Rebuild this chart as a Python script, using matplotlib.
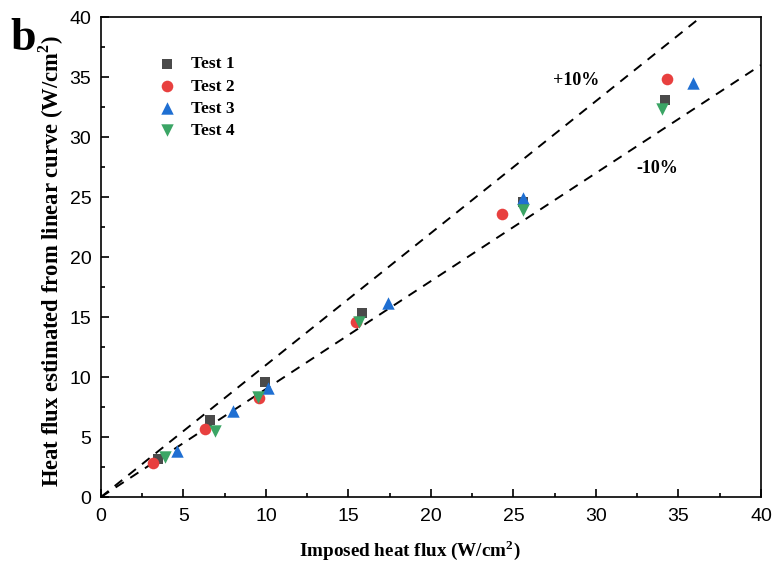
import matplotlib
matplotlib.use('Agg')
import matplotlib.pyplot as plt
from matplotlib.ticker import MultipleLocator

# imposed heat flux (x) vs estimated heat flux (y), W/cm2
x_t1 = [3.45, 6.6, 9.95, 15.8, 25.55, 34.2]
y_t1 = [3.2, 6.4, 9.6, 15.3, 24.6, 33.1]
x_t2 = [3.15, 6.3, 9.6, 15.45, 24.3, 34.3]
y_t2 = [2.85, 5.65, 8.25, 14.55, 23.6, 34.85]
x_t3 = [4.6, 8.0, 10.1, 17.4, 25.6, 35.9]
y_t3 = [3.8, 7.15, 9.1, 16.2, 24.9, 34.5]
x_t4 = [3.9, 6.9, 9.5, 15.65, 25.55, 34.0]
y_t4 = [3.35, 5.5, 8.35, 14.6, 23.9, 32.35]

bound_x = [0, 40]
upper = [0, 44]   # +10%
lower = [0, 36]   # -10%

serif = ['Liberation Serif', 'DejaVu Serif']
sans = ['Liberation Sans', 'DejaVu Sans']

plt.rcParams['mathtext.fontset'] = 'custom'
plt.rcParams['mathtext.rm'] = 'Liberation Serif'
plt.rcParams['mathtext.bf'] = 'Liberation Serif:bold'

fig = plt.figure(figsize=(7.72, 5.68), dpi=100)
ax = fig.add_axes([0.1308, 0.125, 0.8549, 0.845])

ax.plot(bound_x, upper, color='black', lw=1.4, dashes=[5, 4], zorder=1)
ax.plot(bound_x, lower, color='black', lw=1.4, dashes=[5, 4], zorder=1)

ax.scatter(x_t1, y_t1, marker='s', s=60, color='#4a4a4a', label='Test 1', zorder=3, linewidths=0)
ax.scatter(x_t2, y_t2, marker='o', s=70, color='#e8403f', label='Test 2', zorder=3, linewidths=0)
ax.scatter(x_t3, y_t3, marker='^', s=80, color='#1f6fd2', label='Test 3', zorder=3, linewidths=0)
ax.scatter(x_t4, y_t4, marker='v', s=80, color='#3ba565', label='Test 4', zorder=3, linewidths=0)

ax.set_xlim(0, 40)
ax.set_ylim(0, 40)
ax.xaxis.set_major_locator(MultipleLocator(5))
ax.yaxis.set_major_locator(MultipleLocator(5))
ax.xaxis.set_minor_locator(MultipleLocator(2.5))
ax.yaxis.set_minor_locator(MultipleLocator(2.5))
ax.tick_params(which='both', direction='in', top=False, right=False, width=1.2)
ax.tick_params(which='major', length=6, labelsize=14)
ax.tick_params(axis='x', which='major', pad=8)
ax.tick_params(axis='y', which='major', pad=7)
ax.tick_params(which='minor', length=3)
for lab in ax.get_xticklabels() + ax.get_yticklabels():
    lab.set_family(sans)
for sp in ax.spines.values():
    sp.set_linewidth(1.2)

ax.set_xlabel('Imposed heat flux (W/cm$^\\mathbf{2}$)', family=serif, fontweight='bold', fontsize=13.8, labelpad=8)
ax.xaxis.set_label_coords(0.468, -0.085)
ax.set_ylabel('Heat flux estimated from linear curve (W/cm$^\\mathbf{2}$)', family=serif, fontweight='bold', fontsize=16.3, labelpad=8)
ax.yaxis.set_label_coords(-0.053, 0.492)

ax.text(28.8, 34.7, '+10%', family=serif, fontweight='bold', fontsize=13, ha='center', va='center')
ax.text(33.7, 27.4, '-10%', family=serif, fontweight='bold', fontsize=13, ha='center', va='center')

leg = ax.legend(loc='upper left', bbox_to_anchor=(0.063, 0.951), frameon=False,
                prop={'family': serif, 'weight': 'bold', 'size': 12.5},
                handlelength=1.0, handletextpad=0.9, labelspacing=0.35, scatterpoints=1)

fig.text(0.013, 0.968, 'b', family=serif, fontweight='bold', fontsize=33, va='top', ha='left')

fig.savefig('out.png', dpi=100)
